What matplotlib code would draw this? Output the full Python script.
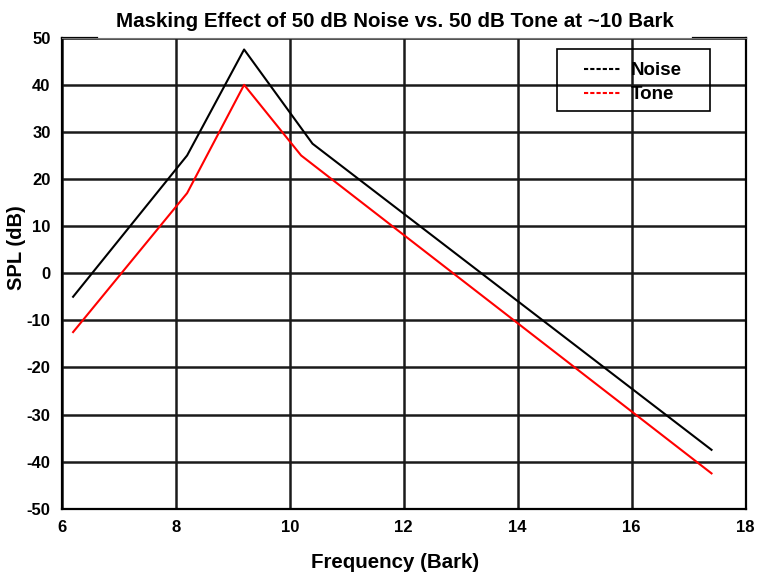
import matplotlib.pyplot as plt
from matplotlib.patches import Rectangle

plt.rcParams['font.family'] = ['Liberation Sans', 'DejaVu Sans']
plt.rcParams['font.weight'] = 'bold'
plt.rcParams['axes.unicode_minus'] = False

# Masking thresholds (dB SPL) against critical-band rate (Bark)
noise_bark = [6.2, 8.2, 9.2, 10.4, 17.4]
noise_db = [-5, 25, 47.5, 27.5, -37.5]

tone_bark = [6.2, 8.2, 9.2, 10.2, 17.4]
tone_db = [-12.5, 17, 40, 25, -42.5]

x_ticks = [6, 8, 10, 12, 14, 16, 18]
y_ticks = [-50, -40, -30, -20, -10, 0, 10, 20, 30, 40, 50]

fig = plt.figure(figsize=(7.58, 5.75), dpi=100)
ax = fig.add_axes([0.0814, 0.1153, 0.9024, 0.8191])

ax.plot(noise_bark, noise_db, color='black', lw=1.5, label='Noise')
ax.plot(tone_bark, tone_db, color='red', lw=1.5, label='Tone')

ax.set_xlim(6, 18)
ax.set_ylim(-50, 50)
ax.set_xticks(x_ticks)
ax.set_yticks(y_ticks)
ax.tick_params(length=0, labelsize=12, pad=8)
for lab in ax.get_xticklabels() + ax.get_yticklabels():
    lab.set_fontweight('bold')

ax.grid(True, color='#1a1a1a', lw=1.8)
ax.set_axisbelow(True)

for side in ['left', 'bottom', 'right']:
    ax.spines[side].set_linewidth(1.6)
    ax.spines[side].set_color('black')
ax.spines['top'].set_linewidth(0.8)
ax.spines['top'].set_color('#777777')
# heavier stubs at both ends of the top frame
ax.plot([0, 0.052], [1, 1], color='black', lw=1.6, transform=ax.transAxes, clip_on=False)
ax.plot([0.923, 1], [1, 1], color='black', lw=1.6, transform=ax.transAxes, clip_on=False)

ax.set_title('Masking Effect of 50 dB Noise vs. 50 dB Tone at ~10 Bark',
             fontsize=14.8, fontweight='bold', pad=8, x=0.487)
ax.set_xlabel('Frequency (Bark)', fontsize=14.8, fontweight='bold', labelpad=13, x=0.487)
ax.set_ylabel('SPL (dB)', fontsize=14.5, fontweight='bold')
ax.yaxis.set_label_coords(-0.052, 0.555)

# legend entries with a separate, roomier box around them
leg_handles = [plt.Line2D([], [], color='black', lw=1.5, ls=(0, (2, 1))),
               plt.Line2D([], [], color='red', lw=1.5, ls=(0, (2, 1)))]
ax.legend(leg_handles, ['Noise', 'Tone'], loc='upper left',
          bbox_to_anchor=(0.7636, 0.948), frameon=False,
          prop={'weight': 'bold', 'size': 13.5},
          handlelength=1.95, handletextpad=0.55, labelspacing=0.36,
          borderpad=0, borderaxespad=0)
ax.add_patch(Rectangle((0.7237, 0.845), 0.2243, 0.1303, transform=ax.transAxes,
                       fill=False, edgecolor='black', lw=1.2, zorder=3))

fig.savefig('out.png', dpi=100)
